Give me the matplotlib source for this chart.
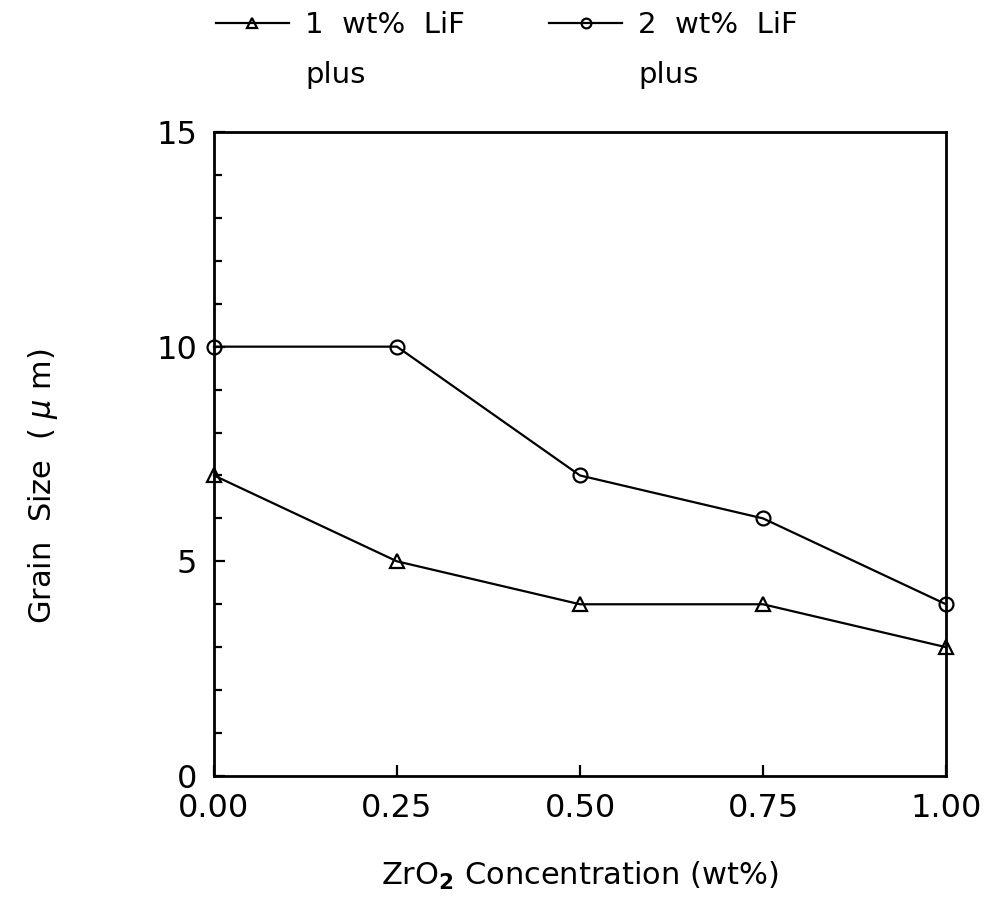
import numpy as np
import matplotlib.pyplot as plt
from matplotlib.ticker import MultipleLocator

# ZrO2 concentration (wt%)
zro2 = [0.00, 0.25, 0.50, 0.75, 1.00]
# grain size (um)
lif1 = [7, 5, 4, 4, 3]
lif2 = [10, 10, 7, 6, 4]

labels = ['1  wt%  LiF', '2  wt%  LiF']
sub = 'plus'

plt.rcParams['font.family'] = ['DejaVu Sans']

fig = plt.figure(figsize=(9.87, 9.09), dpi=100)
ax = fig.add_axes([0.2168, 0.1463, 0.7417, 0.7085])

l1, = ax.plot(zro2, lif1, '-', color='black', lw=1.6, marker='^', ms=10,
              mfc='none', mec='black', mew=1.6, clip_on=False, label=labels[0])
l2, = ax.plot(zro2, lif2, '-', color='black', lw=1.6, marker='o', ms=10,
              mfc='none', mec='black', mew=1.6, clip_on=False, label=labels[1])

ax.set_xlim(0, 1)
ax.set_ylim(0, 15)
ax.xaxis.set_major_locator(MultipleLocator(0.25))
ax.yaxis.set_major_locator(MultipleLocator(5))
ax.yaxis.set_minor_locator(MultipleLocator(1))
ax.xaxis.set_major_formatter(plt.FuncFormatter(lambda v, p: f'{v:.2f}'))
ax.tick_params(axis='both', which='both', direction='in', labelsize=23,
               top=False, right=False)
ax.tick_params(axis='both', which='major', length=8, width=1.6, pad=12)
ax.tick_params(axis='y', which='minor', length=6, width=1.6)
for s in ax.spines.values():
    s.set_linewidth(2)

ax.set_xlabel('ZrO$_\\mathbf{2}$ Concentration (wt%)', fontsize=22, labelpad=26)
ax.set_ylabel('Grain  Size  ( $\\mu$ m)', fontsize=22)
ax.yaxis.set_label_coords(-0.21, 0.45)

leg = fig.legend(handles=[l1, l2], labels=labels, ncol=2, frameon=False,
                 loc='upper left', bbox_to_anchor=(0.204, 1.004),
                 fontsize=21, handlelength=2.5, handletextpad=0.55,
                 columnspacing=2.9, borderpad=0, markerscale=0.7)

fig.canvas.draw()
inv = fig.transFigure.inverted()
for t in leg.get_texts():
    bb = t.get_window_extent()
    x0, y0 = inv.transform((bb.x0, bb.y0))
    fig.text(x0, y0 - 0.024, sub, fontsize=21, ha='left', va='top')

fig.savefig('out.png', dpi=100)
